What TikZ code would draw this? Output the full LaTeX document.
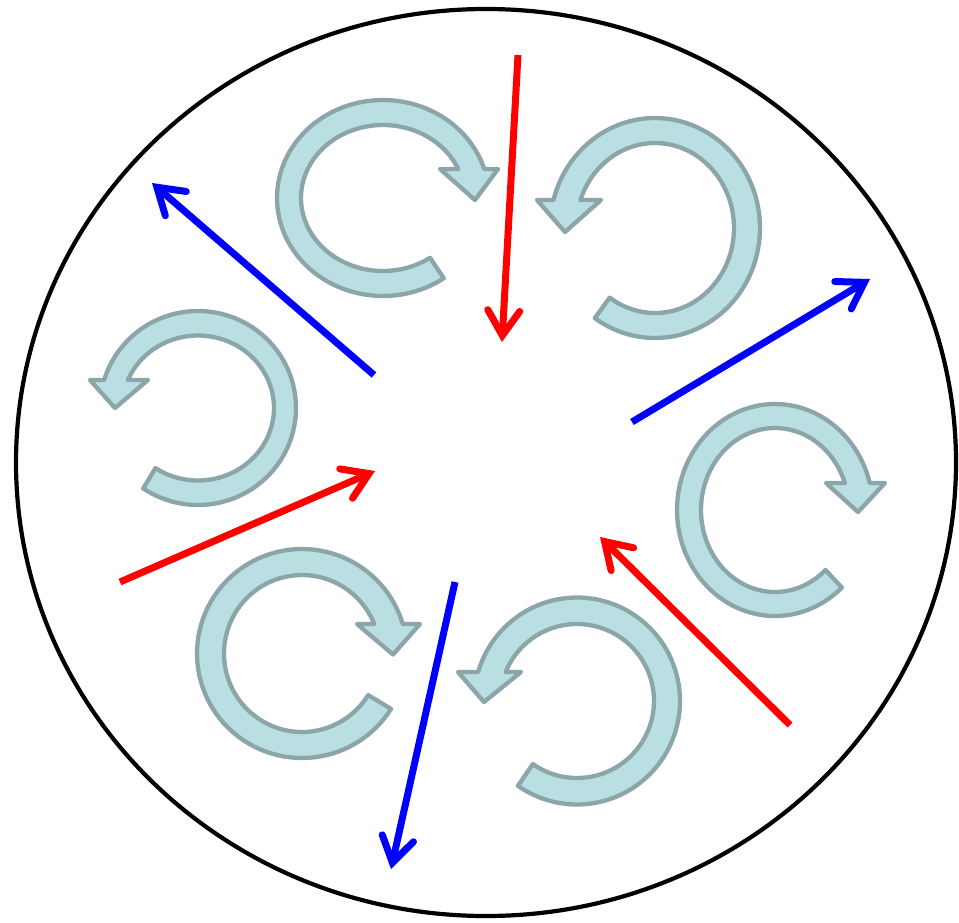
\documentclass[tikz,border=0pt]{standalone}
\usetikzlibrary{arrows.meta}
\definecolor{cafill}{RGB}{186,223,226}
\definecolor{caedge}{RGB}{139,165,168}
\tikzset{
  carrowstyle/.style={fill=cafill, draw=caedge, line width=4.3pt, line join=round},
  redarrow/.style={draw=red, line width=7pt, -{Straight Barb[length=25pt,width=32pt,line cap=round]}},
  bluearrow/.style={draw=blue, line width=7pt, -{Straight Barb[length=25pt,width=32pt,line cap=round]}},
  rim/.style={draw=black, line width=4.2pt}
}
% #1 centre, #2 xscale (1 = clockwise, -1 = mirrored), #3/#4 outer radii, #5/#6 inner radii, #7 tail angle
\newcommand\carrow[7]{%
  \pgfmathsetmacro\tone{asin(\by/#4)}%
  \pgfmathsetmacro\ttwo{asin(\by/#6)}%
  \pgfmathsetmacro\tend{360+#7}%
  \begin{scope}[shift={(#1)}, xscale=#2, yscale=-1]
    \filldraw[carrowstyle]
      plot[domain=\tone:\tend, samples=100] ({#3*cos(\x)},{#4*sin(\x)})
      -- plot[domain=\tend:\ttwo, samples=100] ({#5*cos(\x)},{#6*sin(\x)})
      -- (\ibx,\by) -- (\tipx,\tipy) -- (\obx,\by) -- cycle;
  \end{scope}}
\begin{document}
\begin{tikzpicture}[x=1pt,y=-1pt]
\useasboundingbox (0,0) rectangle (959,922);
\draw[rim] (486,462.5) ellipse [x radius=470, y radius=453.5];

% circular arrows
\def\tipx{92}\def\tipy{-2}\def\obx{115}\def\ibx{57}\def\by{29}
\carrow{383,198}{1}{106}{98}{82}{73}{-55}
\def\tipx{90}\def\tipy{-4}\def\obx{118}\def\ibx{54}\def\by{28}
\carrow{655,228}{-1}{105}{110}{79}{85}{-55}
\def\tipx{83}\def\tipy{0}\def\obx{108}\def\ibx{50}\def\by{28}
\carrow{198,408}{-1}{98}{97}{76}{72.5}{-56}
\def\tipx{83}\def\tipy{-2}\def\obx{110}\def\ibx{51}\def\by{27}
\carrow{775,510}{1}{98}{106}{74}{82}{-47}
\def\tipx{91}\def\tipy{-1}\def\obx{118}\def\ibx{55}\def\by{29.5}
\carrow{302,653.5}{1}{105}{104.5}{78}{78.5}{-32}
\def\tipx{93}\def\tipy{-1}\def\obx{119}\def\ibx{56}\def\by{29}
\carrow{577,701}{-1}{103}{103.5}{77}{77}{-55}

% straight arrows
\coordinate (r1s) at (518,55);  \coordinate (r1e) at (502,342);
\coordinate (r2s) at (120,582); \coordinate (r2e) at (375,471);
\coordinate (r3s) at (790,725); \coordinate (r3e) at (600,537);
\coordinate (b1s) at (374,375); \coordinate (b1e) at (152,183);
\coordinate (b2s) at (632,422); \coordinate (b2e) at (870,279);
\coordinate (b3s) at (455,582); \coordinate (b3e) at (391,869);
\draw[redarrow] (r1s) -- (r1e);
\draw[redarrow] (r2s) -- (r2e);
\draw[redarrow] (r3s) -- (r3e);
\draw[bluearrow] (b1s) -- (b1e);
\draw[bluearrow] (b2s) -- (b2e);
\draw[bluearrow] (b3s) -- (b3e);
\end{tikzpicture}
\end{document}
